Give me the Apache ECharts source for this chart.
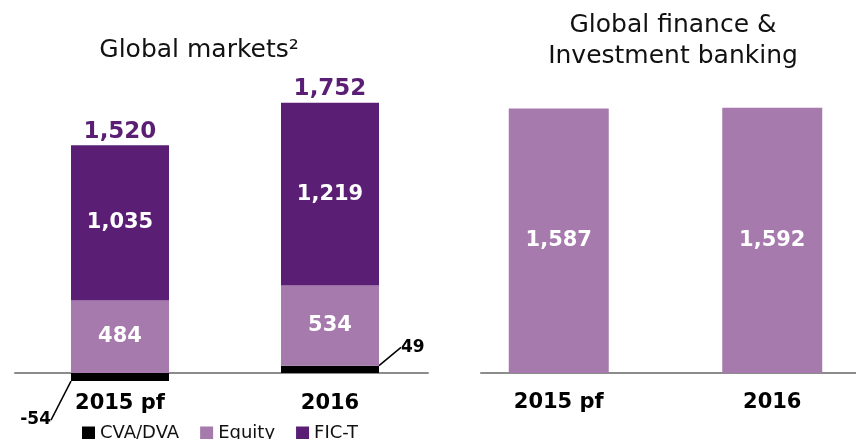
<!DOCTYPE html>
<html><head><meta charset="utf-8">
<script src="https://cdn.jsdelivr.net/npm/echarts/dist/echarts.min.js"></script>
<style>html,body{margin:0;padding:0;background:#fff}#c{width:856px;height:439px}</style>
</head><body><div id="c"></div>
<script>
// ---- data ----
const categories = ['2015 pf', '2016'];
const cvaDva = [-54, 49];
const equity = [484, 534];
const ficT = [1035, 1219];
const marketsTotals = [1520, 1752];
const financeBanking = [1587, 1592];
const legendNames = ['CVA/DVA', 'Equity', 'FIC-T'];
const leftTitle = 'Global markets²';
const rightTitle = 'Global finance &\nInvestment banking';

// ---- styles ----
const FONT = 'DejaVu Sans';
const DARK = '#5a1f74';
const LIGHT = '#a67aad';
const AXIS = '#8c8c8c';
const fmt = v => Number(v).toLocaleString('en-US');

const chart = echarts.init(document.getElementById('c'), null, {renderer: 'canvas'});

const innerLabel = {
  show: true, position: 'inside', color: '#fff', fontFamily: FONT,
  fontWeight: 'bold', fontSize: 21, formatter: p => fmt(p.value)
};
const catAxisBase = {
  type: 'category', data: categories,
  axisLine: {show: false, onZero: false}, axisTick: {show: false},
  splitLine: {show: false}
};
const lineAxis = (gi) => ({
  type: 'value', gridIndex: gi, min: 0, max: 1,
  axisLine: {show: true, onZero: false, lineStyle: {color: AXIS, width: 2}},
  axisTick: {show: false}, axisLabel: {show: false}, splitLine: {show: false}
});
const hiddenY = (gi) => ({type: 'value', gridIndex: gi, show: false, min: 0, max: 1, splitLine: {show: false}});

const option = {
  backgroundColor: '#fff',
  animation: false,
  title: [
    {text: leftTitle, left: 199, top: 38, textAlign: 'center', padding: 0,
     textStyle: {fontFamily: FONT, fontSize: 25, fontWeight: 'normal', color: '#111'}},
    {text: rightTitle, left: 673, top: 10, textAlign: 'center', padding: 0,
     textStyle: {fontFamily: FONT, fontSize: 25, fontWeight: 'normal', color: '#111', lineHeight: 31}}
  ],
  legend: {
    data: legendNames, left: 82, top: 424, padding: 0, itemGap: 21,
    icon: 'rect', itemWidth: 13, itemHeight: 13,
    textStyle: {fontFamily: FONT, fontSize: 18, color: '#111'}
  },
  grid: [
    {left: 15, width: 420, top: 73, height: 315, containLabel: false, outerBoundsMode: 'none'},
    {left: 452, width: 427, top: 73, height: 300, containLabel: false, outerBoundsMode: 'none'},
    {left: 15, width: 413, top: 0, height: 373, containLabel: false, outerBoundsMode: 'none'},
    {left: 481, width: 375, top: 0, height: 373, containLabel: false, outerBoundsMode: 'none'}
  ],
  xAxis: [
    Object.assign({}, catAxisBase, {gridIndex: 0,
      axisLabel: {margin: 5, color: '#000', fontFamily: FONT, fontWeight: 'bold', fontSize: 21}}),
    Object.assign({}, catAxisBase, {gridIndex: 1,
      axisLabel: {margin: 19, color: '#000', fontFamily: FONT, fontWeight: 'bold', fontSize: 21}}),
    lineAxis(2),
    lineAxis(3)
  ],
  yAxis: [
    {type: 'value', gridIndex: 0, show: false, min: -100, max: 2000, splitLine: {show: false}},
    {type: 'value', gridIndex: 1, show: false, min: 0, max: 1800, splitLine: {show: false}},
    hiddenY(2),
    hiddenY(3)
  ],
  series: [
    {
      name: legendNames[0], type: 'bar', stack: 'gm', xAxisIndex: 0, yAxisIndex: 0,
      barWidth: 98, barGap: '-100%', itemStyle: {color: '#000'},
      data: cvaDva.map((v, i) => ({value: v, label: {position: v < 0 ? 'left' : 'right'}})),
      label: {show: true, color: '#000', fontFamily: FONT, fontWeight: 'bold', fontSize: 17,
              formatter: p => fmt(p.value)},
      labelLayout: p => (p.dataIndex === 0 ? {dx: -15, dy: 43} : {dx: 17, dy: -22}),
      labelLine: {show: true, lineStyle: {color: '#000', width: 1.5}}
    },
    {
      name: legendNames[1], type: 'bar', stack: 'gm', xAxisIndex: 0, yAxisIndex: 0,
      barWidth: 98, barGap: '-100%', itemStyle: {color: LIGHT},
      data: equity, label: innerLabel
    },
    {
      name: legendNames[2], type: 'bar', stack: 'gm', xAxisIndex: 0, yAxisIndex: 0,
      barWidth: 98, barGap: '-100%', itemStyle: {color: DARK},
      data: ficT, label: innerLabel
    },
    {
      name: 'Total', type: 'bar', xAxisIndex: 0, yAxisIndex: 0, silent: true, z: 1,
      barWidth: 98, barGap: '-100%', itemStyle: {color: 'rgba(0,0,0,0)'},
      data: categories.map((_, i) => equity[i] + ficT[i] + Math.max(cvaDva[i], 0)),
      label: {show: true, position: 'top', distance: 2, color: DARK, fontFamily: FONT,
              fontWeight: 'bold', fontSize: 23, formatter: p => fmt(marketsTotals[p.dataIndex])}
    },
    {
      name: 'Global finance & Investment banking', type: 'bar', xAxisIndex: 1, yAxisIndex: 1,
      barWidth: 100, itemStyle: {color: LIGHT},
      data: financeBanking, label: innerLabel
    }
  ]
};
chart.setOption(option);
</script>
</body></html>
